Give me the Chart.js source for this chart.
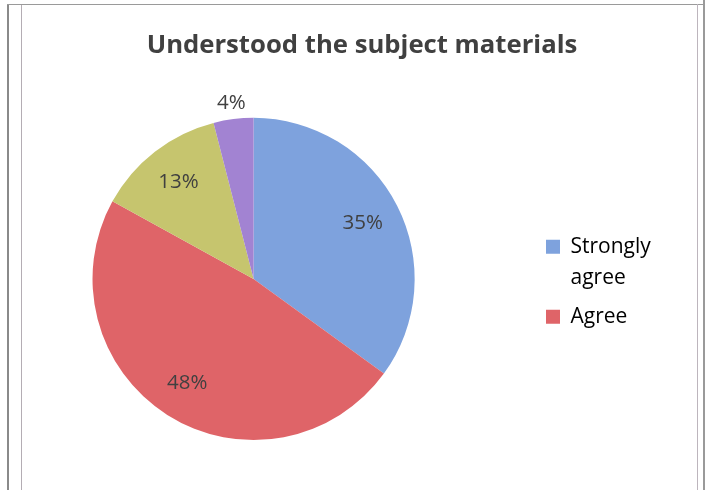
<!DOCTYPE html>
<html>
<head>
<meta charset="utf-8">
<script src="https://cdn.jsdelivr.net/npm/chart.js@4"></script>
<style>
  html, body { margin: 0; padding: 0; background: #fff; }
  #wrap { position: relative; width: 707px; height: 490px; overflow: hidden; background: #fff; }
  #c { position: absolute; left: 0; top: 0; }
  .ln { position: absolute; }
</style>
</head>
<body>
<div id="wrap">
  <canvas id="c" width="707" height="490"></canvas>
  <div class="ln" style="left:7px;top:4px;width:2px;height:486px;background:#8a8a8a"></div>
  <div class="ln" style="left:21px;top:4px;width:1px;height:486px;background:#b4adb4"></div>
  <div class="ln" style="left:7px;top:4px;width:696px;height:1px;background:#9a9a9a"></div>
  <div class="ln" style="left:697px;top:4px;width:1px;height:486px;background:#bdb5bd"></div>
  <div class="ln" style="left:703px;top:0px;width:2px;height:490px;background:#9a9a9a"></div>
</div>
<script>
const titleText = 'Understood the subject materials';
const categories = ['Strongly agree', 'Agree', 'Disagree', 'Strongly disagree'];
const legendLines = [['Strongly', 'agree'], ['Agree']];
const values = [35, 48, 13, 4];
const colors = ['#7ea2dd', '#df6468', '#c6c56e', '#a283d2'];
const labelRadius = [0.76, 0.77, 0.76, 1.10];

const dataLabels = {
  id: 'dataLabels',
  afterDatasetsDraw(chart) {
    const ctx = chart.ctx;
    const meta = chart.getDatasetMeta(0);
    ctx.save();
    ctx.font = '20.5px "Open Sans", sans-serif';
    ctx.fillStyle = '#404040';
    ctx.textAlign = 'center';
    ctx.textBaseline = 'middle';
    meta.data.forEach((arc, i) => {
      const p = arc.getProps(['x', 'y', 'startAngle', 'endAngle', 'outerRadius'], true);
      const mid = (p.startAngle + p.endAngle) / 2;
      const r = p.outerRadius * labelRadius[i];
      ctx.fillText(values[i] + '%', p.x + Math.cos(mid) * r, p.y + Math.sin(mid) * r);
    });
    ctx.restore();
  }
};

const placeBlocks = {
  id: 'placeBlocks',
  afterLayout(chart) {
    const t = chart.titleBlock;
    if (t) { const dx = 362 - (t.left + t.right) / 2; t.left += dx; t.right += dx; }
    const l = chart.legend;
    if (l) {
      const dx = 539 - l.left; l.left += dx; l.right += dx;
      l.top += 62; l.bottom += 62;
    }
  }
};

new Chart(document.getElementById('c'), {
  type: 'pie',
  data: {
    labels: categories,
    datasets: [{
      data: values,
      backgroundColor: colors,
      borderWidth: 0
    }]
  },
  options: {
    responsive: false,
    animation: false,
    layout: { padding: { left: 20, right: 98, top: 10, bottom: 50 } },
    plugins: {
      title: {
        display: true,
        text: titleText,
        color: '#404040',
        font: { family: '"Open Sans", sans-serif', size: 25.7, weight: 'bold' },
        padding: { top: 20, bottom: 57 }
      },
      legend: {
        position: 'right',
        labels: {
          boxWidth: 14,
          boxHeight: 14,
          padding: 7,
          color: '#404040',
          font: { family: '"Open Sans", sans-serif', size: 21, lineHeight: 1.5 },
          generateLabels(chart) {
            return legendLines.map((t, i) => ({
              text: t,
              fillStyle: colors[i],
              strokeStyle: colors[i],
              lineWidth: 0,
              hidden: false,
              index: i
            }));
          }
        }
      },
      tooltip: { enabled: false }
    }
  },
  plugins: [dataLabels, placeBlocks]
});
</script>
</body>
</html>
